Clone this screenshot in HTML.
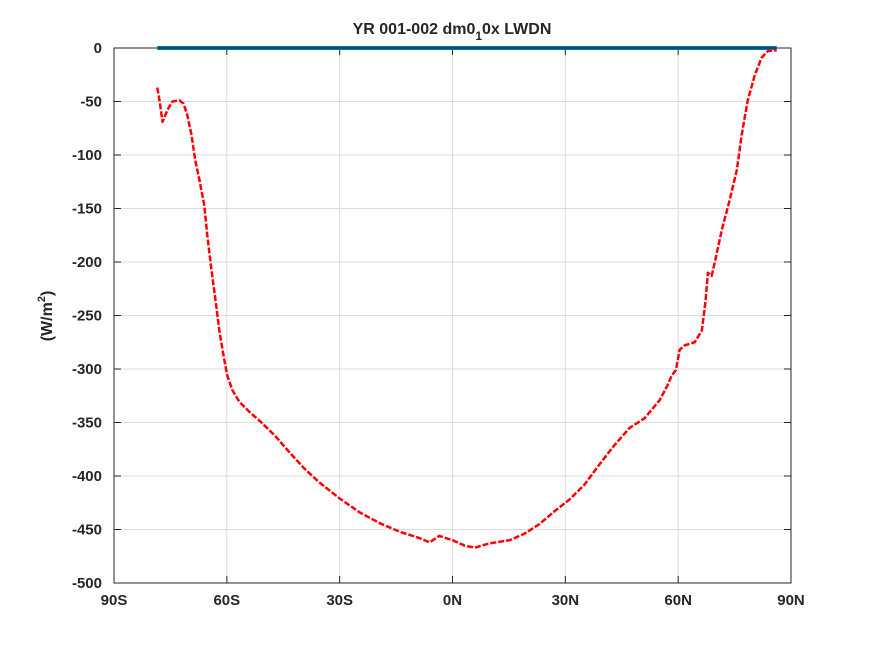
<!DOCTYPE html>
<html><head><meta charset="utf-8"><style>
body{margin:0;background:#fff;font-family:"Liberation Sans",sans-serif}
svg text{font-family:"Liberation Sans",sans-serif;font-weight:bold;fill:#262626}
</style></head><body>
<svg id="c" width="875" height="656">
<rect x="0" y="0" width="875" height="656" fill="#fff"/>
<g id="grid"></g><g id="ticks"></g>
<text x="452" y="34" font-size="16" text-anchor="middle" fill="#000">YR 001-002 dm0<tspan font-size="12" dy="6">1</tspan><tspan dy="-6">0x LWDN</tspan></text>
<text transform="translate(52,316) rotate(-90)" font-size="16" text-anchor="middle">(W/m<tspan font-size="11" dy="-7">2</tspan><tspan dy="7">)</tspan></text>
<g id="series"></g>
<rect x="114" y="48" width="677" height="535" fill="none" stroke="#262626" stroke-width="1"/>
</svg>
<script>
const xTicks=[-90,-60,-30,0,30,60,90];
const xTickLabels=["90S","60S","30S","0N","30N","60N","90N"];
const yTicks=[0,-50,-100,-150,-200,-250,-300,-350,-400,-450,-500];
const lats=[-78.5,-77.9,-77.1,-75.8,-74.5,-72.6,-71.5,-70.5,-69.4,-68.4,-67.3,-66,-65.2,-64.1,-63,-62,-60.9,-59.9,-58.5,-56.6,-54,-50.8,-47.3,-43.3,-39.4,-35.4,-30,-24.7,-19.4,-14.1,-8.8,-6.1,-3.5,0,3.2,5.9,9.8,15.2,19.1,23.1,27.1,31.1,35.1,39.1,43.1,47.1,51.1,55.1,57.2,58.3,59.4,60.4,61.7,64.4,66.3,67.3,67.9,68.9,70,71.6,73.7,75.6,76.9,78.5,80.4,82.2,83.8,86.2];
const lwdn=[-37,-49,-69,-58,-50,-49,-52,-63,-81,-105,-123,-147,-175,-207,-236,-264,-287,-306,-320,-331,-340,-350,-362,-378,-393,-406,-421,-434,-444,-452,-458,-462,-456,-460,-465,-467,-463,-460,-454,-445,-433,-422,-408,-389,-371,-355,-346,-329,-315,-306,-301,-282,-278,-275,-264,-236,-210,-213,-196,-170,-142,-114,-81,-49,-25,-9,-3,-2];
const refLat=[-78.5,86.2];
const refVal=[0,0];
const NS="http://www.w3.org/2000/svg";
const X0=114,X1=791,Y0=48,Y1=583;
const xs=v=>X0+(v+90)/180*(X1-X0);
const ys=v=>Y0+(0-v)/500*(Y1-Y0);
function mk(t,a,p){const e=document.createElementNS(NS,t);for(const k in a)e.setAttribute(k,a[k]);p.appendChild(e);return e;}
const grid=document.getElementById('grid'),ticks=document.getElementById('ticks'),ser=document.getElementById('series');
xTicks.forEach((t,i)=>{const x=xs(t);
 const g=mk('line',{x1:x,x2:x,y1:Y0,y2:Y1,stroke:'#dcdcdc','stroke-width':1},grid);
 
 
 mk('line',{x1:x,x2:x,y1:Y1,y2:Y1-7,stroke:'#262626'},ticks);
 mk('line',{x1:x,x2:x,y1:Y0,y2:Y0+7,stroke:'#262626'},ticks);
 const tx=mk('text',{x:x,y:Y1+22,'font-size':15,'text-anchor':'middle'},ticks);tx.textContent=xTickLabels[i];
 
 });
yTicks.forEach(t=>{const y=ys(t);
 const g=mk('line',{x1:X0,x2:X1,y1:y,y2:y,stroke:'#dcdcdc','stroke-width':1},grid);
 
 
 mk('line',{x1:X0,x2:X0+7,y1:y,y2:y,stroke:'#262626'},ticks);
 mk('line',{x1:X1,x2:X1-7,y1:y,y2:y,stroke:'#262626'},ticks);
 const tx=mk('text',{x:X0-12,y:y+5,'font-size':15,'text-anchor':'end'},ticks);tx.textContent=String(t);
 
 });
const ref=mk('polyline',{points:refLat.map((l,i)=>xs(l)+','+ys(refVal[i])).join(' '),fill:'none',stroke:'#0072bd','stroke-width':4},ser);


const ln=mk('polyline',{points:lats.map((l,i)=>xs(l)+','+ys(lwdn[i])).join(' '),fill:'none',stroke:'#ff0000','stroke-width':2.5,'stroke-dasharray':'6 2','stroke-linejoin':'round'},ser);


</script>
</body></html>
